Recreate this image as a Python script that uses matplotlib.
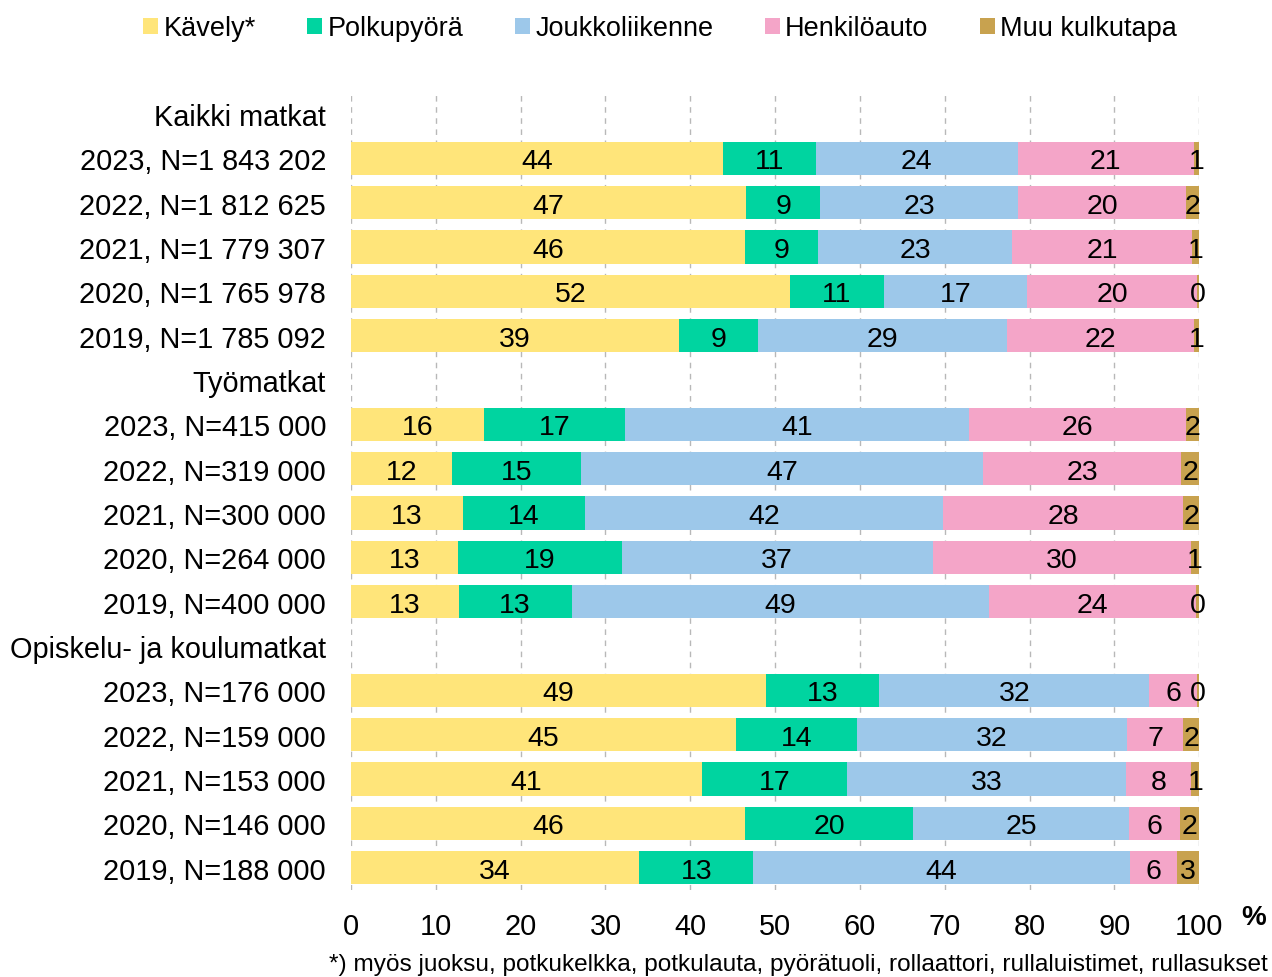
import matplotlib
matplotlib.use('Agg')
import matplotlib.pyplot as plt
from matplotlib.patches import Patch

# ======================
# DATA
# ======================

row_labels = ['Kaikki matkat',
              '2023, N=1 843 202', '2022, N=1 812 625', '2021, N=1 779 307',
              '2020, N=1 765 978', '2019, N=1 785 092',
              'Työmatkat',
              '2023, N=415 000', '2022, N=319 000', '2021, N=300 000',
              '2020, N=264 000', '2019, N=400 000',
              'Opiskelu- ja koulumatkat',
              '2023, N=176 000', '2022, N=159 000', '2021, N=153 000',
              '2020, N=146 000', '2019, N=188 000']

# None = header row (no bar)
kavely = [None, 43.9, 46.6, 46.4, 51.7, 38.7,
          None, 15.7, 11.9, 13.2, 12.6, 12.7,
          None, 48.9, 45.4, 41.4, 46.4, 34.0]
polkupyora = [None, 10.9, 8.7, 8.7, 11.2, 9.3,
              None, 16.6, 15.2, 14.4, 19.3, 13.3,
              None, 13.4, 14.3, 17.1, 19.9, 13.4]
joukkoliikenne = [None, 23.8, 23.4, 22.8, 16.8, 29.4,
                  None, 40.6, 47.4, 42.2, 36.7, 49.2,
                  None, 31.8, 31.8, 32.9, 25.4, 44.4]
henkiloauto = [None, 20.8, 19.7, 21.3, 20.1, 22.0,
               None, 25.6, 23.4, 28.3, 30.4, 24.4,
               None, 5.7, 6.6, 7.7, 6.1, 5.6]
muu = [None, 0.6, 1.6, 0.8, 0.2, 0.6,
       None, 1.5, 2.1, 1.9, 1.0, 0.4,
       None, 0.2, 1.9, 0.9, 2.2, 2.6]

series_names = ['Kävely*', 'Polkupyörä', 'Joukkoliikenne', 'Henkilöauto', 'Muu kulkutapa']
series = [kavely, polkupyora, joukkoliikenne, henkiloauto, muu]
colors = ['#FFE57A', '#00D4A0', '#9DC8EA', '#F4A5C8', '#C8A24F']

footnote = '*) myös juoksu, potkukelkka, potkulauta, pyörätuoli, rollaattori, rullaluistimet, rullasukset'

# ======================
# PLOT
# ======================

plt.rcParams['font.family'] = ['Liberation Sans', 'DejaVu Sans']
plt.rcParams['font.size'] = 20


def generate_graph():
    fig = plt.figure(figsize=(12.72, 9.78), dpi=100)
    ax = fig.add_axes([0.276, 0.089, 0.6667, 0.816])

    n = len(row_labels)
    ypos = list(range(n))

    left = [0.0] * n
    for vals, col in zip(series, colors):
        for i, v in enumerate(vals):
            if v is None:
                continue
            ax.barh(ypos[i], v, left=left[i], height=0.75, color=col, zorder=2)
            ax.text(left[i] + v / 2, ypos[i], f'{v:.0f}', ha='center',
                    va='center_baseline', fontsize=20.5, color='black', zorder=3)
            left[i] += v

    ax.set_ylim(n - 0.5, -0.5)
    ax.set_xlim(0, 100)
    ax.set_yticks(ypos)
    ax.set_yticklabels(row_labels)
    ax.set_xticks(range(0, 101, 10))
    ax.tick_params(axis='both', length=0, labelsize=20.8)
    ax.tick_params(axis='y', pad=18)
    ax.tick_params(axis='x', pad=16)
    for s in ax.spines.values():
        s.set_visible(False)
    ax.grid(axis='x', linestyle=(0, (4, 4)), color='#B8B8B8', linewidth=1, zorder=0)
    ax.set_axisbelow(True)

    fig.text(0.995, 0.061, '%', fontsize=20, fontweight='bold', ha='right', va='center')

    handles = [Patch(facecolor=c, edgecolor='none') for c in colors]
    fig.legend(handles, series_names, loc='center', bbox_to_anchor=(0.519, 0.970),
               ncol=5, frameon=False, handlelength=0.55, handleheight=0.55,
               handletextpad=0.2, columnspacing=1.9,
               prop={'size': 19.5})

    fig.text(0.997, 0.002, footnote, fontsize=17.6, ha='right', va='bottom')

    fig.savefig('out.png', dpi=100)


if __name__ == '__main__':
    generate_graph()
